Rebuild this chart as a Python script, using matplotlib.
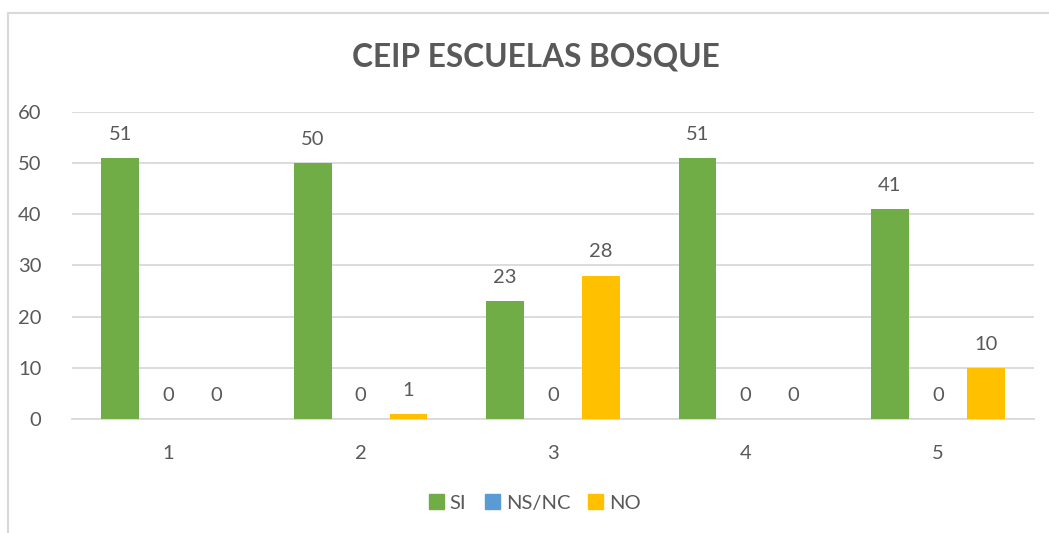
import numpy as np
import matplotlib.pyplot as plt
from matplotlib.lines import Line2D
from matplotlib.patches import Patch

plt.rcParams['font.family'] = ['Lato', 'DejaVu Sans']

categories = ['1', '2', '3', '4', '5']
series = ['SI', 'NS/NC', 'NO']
si = [51, 50, 23, 51, 41]
nsnc = [0, 0, 0, 0, 0]
no = [0, 1, 28, 0, 10]
colors = ['#70AD47', '#5B9BD5', '#FFC000']
text_grey = '#595959'

fig = plt.figure(figsize=(10.49, 5.33), dpi=100)
ax = fig.add_axes([0.0686, 0.2139, 0.9171, 0.576])

x = np.arange(len(categories))
width = 0.197
offset = 0.249
for i, (vals, col) in enumerate(zip([si, nsnc, no], colors)):
    pos = x + (i - 1) * offset
    bars = ax.bar(pos, vals, width, color=col, label=series[i], zorder=3)
    for b, v in zip(bars, vals):
        ax.annotate(str(v), (b.get_x() + b.get_width() / 2, v),
                    xytext=(0, 11), textcoords='offset points',
                    ha='center', va='bottom', fontsize=14.5, color=text_grey)

ax.set_xlim(-0.5, len(categories) - 0.5)
ax.set_ylim(0, 60)
ax.set_yticks(range(0, 61, 10))
ax.set_xticks(x)
ax.set_xticklabels(categories)
ax.grid(axis='y', color='#D9D9D9', linewidth=1.3, zorder=0)
for s in ['top', 'right', 'left']:
    ax.spines[s].set_visible(False)
ax.spines['bottom'].set_color('#D9D9D9')
ax.spines['bottom'].set_linewidth(1.3)
ax.tick_params(axis='both', length=0, labelsize=14.5, labelcolor=text_grey)
ax.tick_params(axis='x', pad=19)
ax.tick_params(axis='y', pad=22)

fig.text(0.511, 0.893, 'CEIP ESCUELAS BOSQUE', ha='center', va='center',
         fontsize=22.8, fontweight='bold', color=text_grey)

handles = [Patch(color=c, label=s) for c, s in zip(colors, series)]
fig.legend(handles=handles, loc='center', bbox_to_anchor=(0.51, 0.056), ncol=3,
           frameon=False, fontsize=14.5, labelcolor=text_grey,
           handlelength=0.75, handleheight=0.75, handletextpad=0.3, columnspacing=0.9)

# chart border (left and top edges visible)
fig.add_artist(Line2D([8 / 1049, 8 / 1049], [0, 1 - 13 / 533], transform=fig.transFigure,
                      color='#D9D9D9', linewidth=1.5))
fig.add_artist(Line2D([8 / 1049, 1], [1 - 13 / 533, 1 - 13 / 533], transform=fig.transFigure,
                      color='#D9D9D9', linewidth=1.5))

fig.savefig('out.png', dpi=100)
